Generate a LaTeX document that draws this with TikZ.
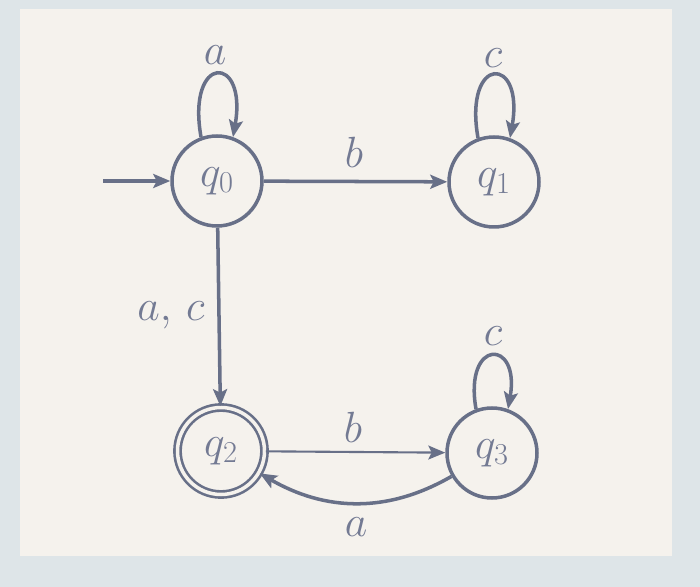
\documentclass[tikz,border=0pt]{standalone}
\usetikzlibrary{arrows.meta}
\definecolor{ink}{HTML}{687088}
\definecolor{txt}{HTML}{737A93}
\definecolor{outerbg}{HTML}{DEE5E8}
\definecolor{panel}{HTML}{F5F2ED}
\begin{document}
\begin{tikzpicture}[x=0.02cm,y=0.02cm,
  font=\fontsize{24}{28}\selectfont,
  state/.style={circle, draw=ink, line width=2pt, minimum size=1.8cm, inner sep=0pt, text=txt},
  accept/.style={circle, draw=ink, double=panel, line width=1.5pt, double distance=2pt, minimum size=1.74cm, inner sep=0pt, text=txt},
  edgeline/.style={draw=ink, line width=2pt, -{Stealth[length=0.34cm,width=0.28cm,inset=0.07cm]}},
  thinedge/.style={edgeline, line width=1.2pt},
  lbl/.style={text=txt, inner sep=1pt}]
\fill[outerbg] (0,0) rectangle (700,-587);
\fill[panel] (20,-9) rectangle (672,-556);
\useasboundingbox (0,0) rectangle (700,-587);

\node[state] (q0) at (217,-181) {$q_0$};
\node[state] (q1) at (494,-182) {$q_1$};
\node[accept] (q2) at (221,-451) {$q_2$};
\node[state] (q3) at (492,-453) {$q_3$};

\coordinate (init) at (103,-181);
\draw[edgeline] (init) -- (q0);

\draw[edgeline] (q0.110) .. controls +(100:85) and +(80:85) .. (q0.70);
\draw[edgeline] (q1.110) .. controls +(100:85) and +(80:85) .. (q1.70);
\draw[edgeline] (q3.110) .. controls +(100:72) and +(80:72) .. (q3.70);

\draw[edgeline] (q0) -- (q1);
\draw[edgeline] (q0) -- (q2);
\draw[thinedge] (q2) -- (q3);
\draw[edgeline] (q3) to[out=210,in=-30] (q2);

\node[lbl] (la0) at (215,-55) {$a$};
\node[lbl] (lc1) at (493,-58) {$c$};
\node[lbl] (lc3) at (493,-336) {$c$};
\node[lbl] (lb01) at (354,-152) {$b$};
\node[lbl] (lac) at (171,-315) {$a,\,c$};
\node[lbl] (lb23) at (353,-427) {$b$};
\node[lbl] (la32) at (356,-527) {$a$};
\end{tikzpicture}
\end{document}
